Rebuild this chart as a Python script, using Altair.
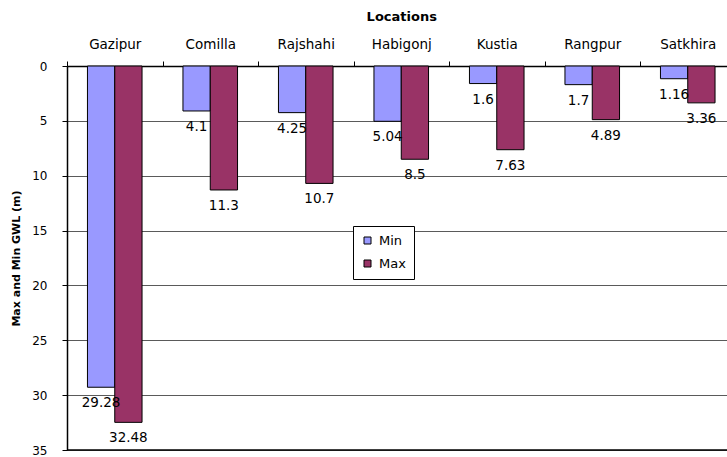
import altair as alt
import pandas as pd

# Groundwater level depths (m below ground) per location
locations = ["Gazipur", "Comilla", "Rajshahi", "Habigonj", "Kustia", "Rangpur", "Satkhira"]
min_gwl = [29.28, 4.1, 4.25, 5.04, 1.6, 1.7, 1.16]
max_gwl = [32.48, 11.3, 10.7, 8.5, 7.63, 4.89, 3.36]
series = ["Min", "Max"]
series_colors = ["#9999FF", "#993366"]
y_ticks = [0, 5, 10, 15, 20, 25, 30, 35]

rows = []
for loc, lo, hi in zip(locations, min_gwl, max_gwl):
    rows.append({"Location": loc, "Series": "Min", "GWL": lo, "label": str(lo)})
    rows.append({"Location": loc, "Series": "Max", "GWL": hi, "label": str(hi)})
df = pd.DataFrame(rows)

FONT = "DejaVu Sans"

x_enc = alt.X(
    "Location:N",
    sort=locations,
    scale=alt.Scale(range=[0, 668.5], paddingInner=0, paddingOuter=0),
    axis=alt.Axis(
        orient="top",
        title="Locations",
        titleFont=FONT,
        titleFontSize=13,
        titleFontWeight="bold",
        titleColor="black",
        titleY=-43,
        labelFont=FONT,
        labelFontSize=13.5,
        labelColor="black",
        labelAngle=0,
        labelPadding=10,
        tickBand="extent",
        tickSize=5,
        tickColor="black",
        domainColor="black",
        domainWidth=1.5,
        grid=False,
    ),
)
xoff_enc = alt.XOffset(
    "Series:N",
    sort=series,
    scale=alt.Scale(domain=series, paddingInner=0, paddingOuter=0.75),
)
y_scale = alt.Scale(domain=[0, 35], reverse=True, nice=False)

bars = alt.Chart(df).mark_bar(stroke="black", strokeWidth=1).encode(
    x=x_enc,
    xOffset=xoff_enc,
    y=alt.Y(
        "GWL:Q",
        scale=y_scale,
        axis=alt.Axis(
            values=y_ticks,
            title="Max and Min GWL (m)",
            titleFont=FONT,
            titleFontSize=11,
            titleFontWeight="bold",
            titleColor="black",
            titlePadding=10,
            labelFont=FONT,
            labelFontSize=12,
            labelColor="black",
            labelPadding=15,
            tickSize=5,
            tickColor="black",
            domainColor="black",
            domainWidth=1.5,
            grid=True,
            gridColor="#5a5a5a",
            gridWidth=1,
        ),
    ),
    color=alt.Color(
        "Series:N",
        sort=series,
        scale=alt.Scale(domain=series, range=series_colors),
        title=None,
        legend=alt.Legend(
            orient="none",
            legendX=286,
            legendY=160,
            symbolType="square",
            symbolSize=49,
            symbolStrokeColor="black",
            symbolStrokeWidth=1,
            labelFont=FONT,
            labelFontSize=13,
            labelColor="black",
            labelOffset=5,
            rowPadding=9,
            padding=8,
            strokeColor="black",
            fillColor="white",
        ),
    ),
)

labels = alt.Chart(df).mark_text(
    font=FONT, fontSize=13.5, color="black", dy=16, baseline="middle"
).encode(
    x=alt.X("Location:N", sort=locations),
    xOffset=alt.XOffset("Series:N", sort=series),
    y=alt.Y("GWL:Q"),
    text="label:N",
)

# darker bottom boundary of the value range
bottom = alt.Chart(pd.DataFrame({"v": [35]})).mark_rule(
    color="black", strokeWidth=1.5
).encode(y=alt.Y("v:Q"))

chart = (
    alt.layer(bars, labels, bottom)
    .properties(
        width=660,
        height=384,
        autosize=alt.AutoSizeParams(type="none"),
        padding={"left": 67, "top": 66, "right": 0, "bottom": 7},
    )
    .configure_view(stroke=None)
    .configure(background="white")
)

chart.save("out.html", embed_options={"renderer": "svg", "actions": False})
